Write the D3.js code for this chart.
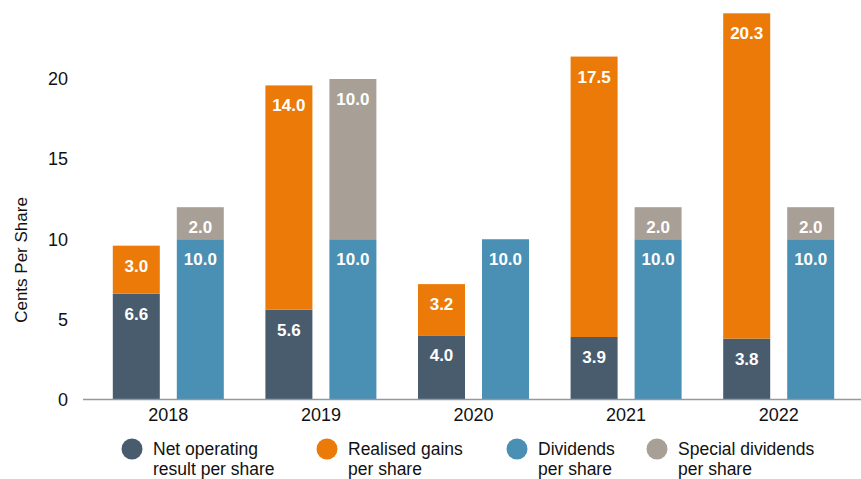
<!DOCTYPE html>
<html>
<head>
<meta charset="utf-8">
<script src="https://cdn.jsdelivr.net/npm/d3@7"></script>
<style>
  body { margin: 0; background: #fff; }
  svg { display: block; font-family: "Liberation Sans", Arial, Helvetica, sans-serif; }
</style>
</head>
<body>
<div class="container"></div>
<script>
const years = ["2018", "2019", "2020", "2021", "2022"];
const netOperating = [6.6, 5.6, 4.0, 3.9, 3.8];
const realisedGains = [3.0, 14.0, 3.2, 17.5, 20.3];
const dividends = [10.0, 10.0, 10.0, 10.0, 10.0];
const specialDividends = [2.0, 10.0, 0, 2.0, 2.0];
const yTicks = [0, 5, 10, 15, 20];

const seriesNames = ["Net operating|result per share", "Realised gains|per share", "Dividends|per share", "Special dividends|per share"];
const colors = ["#485c6e", "#ec7a08", "#4a8fb4", "#a89f96"];

const w = 861, h = 479;

const svg = d3.select('.container')
    .append('svg')
    .attr('width', w)
    .attr('height', h);

const x = d3.scaleBand().domain(years).range([92, 855]);
// two stacks per year: earnings (net + gains) and payouts (dividends + special)
const half = 55.5;
const sub = d3.scaleBand().domain(["earn", "pay"])
    .range([x.bandwidth() / 2 - half, x.bandwidth() / 2 + half])
    .paddingInner(17 / 64);
const y = d3.scaleLinear().domain([0, 20]).range([399.5, 79]);

// build stacked segments
const segs = [];
years.forEach((yr, i) => {
    segs.push({yr, stack: "earn", lo: 0, hi: netOperating[i], v: netOperating[i], c: colors[0]});
    segs.push({yr, stack: "earn", lo: netOperating[i], hi: netOperating[i] + realisedGains[i], v: realisedGains[i], c: colors[1]});
    segs.push({yr, stack: "pay", lo: 0, hi: dividends[i], v: dividends[i], c: colors[2]});
    if (specialDividends[i] > 0)
        segs.push({yr, stack: "pay", lo: dividends[i], hi: dividends[i] + specialDividends[i], v: specialDividends[i], c: colors[3]});
});

svg.append('g')
    .selectAll('rect')
    .data(segs)
    .enter()
    .append('rect')
    .attr('x', d => x(d.yr) + sub(d.stack))
    .attr('width', sub.bandwidth())
    .attr('y', d => y(d.hi))
    .attr('height', d => y(d.lo) - y(d.hi))
    .style('fill', d => d.c);

svg.append('g')
    .selectAll('text')
    .data(segs)
    .enter()
    .append('text')
    .attr('x', d => x(d.yr) + sub(d.stack) + sub.bandwidth() / 2)
    .attr('y', d => y(d.hi) + 26)
    .attr('text-anchor', 'middle')
    .style('fill', '#fff')
    .style('font-weight', 'bold')
    .style('font-size', '17px')
    .text(d => d.v.toFixed(1));

// x axis
svg.append('line')
    .attr('x1', 83).attr('x2', w)
    .attr('y1', y(0)).attr('y2', y(0))
    .style('stroke', '#8e9ba7')
    .style('stroke-width', 1.5);

svg.append('g')
    .attr('transform', `translate(0,${y(0)})`)
    .call(d3.axisBottom(x).tickSize(0).tickPadding(9))
    .call(g => g.select('.domain').remove())
    .call(g => g.selectAll('text')
        .style('font-size', '18px')
        .style('font-family', '"Liberation Sans", Arial, sans-serif')
        .style('fill', '#111'));

// y axis
svg.append('g')
    .attr('transform', 'translate(68,0)')
    .call(d3.axisLeft(y).tickValues(yTicks).tickSize(0).tickPadding(0))
    .call(g => g.select('.domain').remove())
    .call(g => g.selectAll('text')
        .style('font-size', '18px')
        .style('font-family', '"Liberation Sans", Arial, sans-serif')
        .style('fill', '#111'));

svg.append('text')
    .attr('transform', 'translate(27,260) rotate(-90)')
    .attr('text-anchor', 'middle')
    .style('font-size', '17px')
    .style('fill', '#111')
    .text('Cents Per Share');

// legend
const legendX = [132, 327, 517, 657];
const legend = svg.append('g')
    .selectAll('g')
    .data(seriesNames)
    .enter()
    .append('g')
    .attr('transform', (d, i) => `translate(${legendX[i]},449)`);

legend.append('circle')
    .attr('r', 10.5)
    .style('fill', (d, i) => colors[i]);

legend.append('text')
    .style('font-size', '17.5px')
    .style('fill', '#111')
    .selectAll('tspan')
    .data(d => d.split('|'))
    .enter()
    .append('tspan')
    .attr('x', 21)
    .attr('y', (d, i) => 6 + i * 19.5)
    .text(d => d);
</script>
</body>
</html>
